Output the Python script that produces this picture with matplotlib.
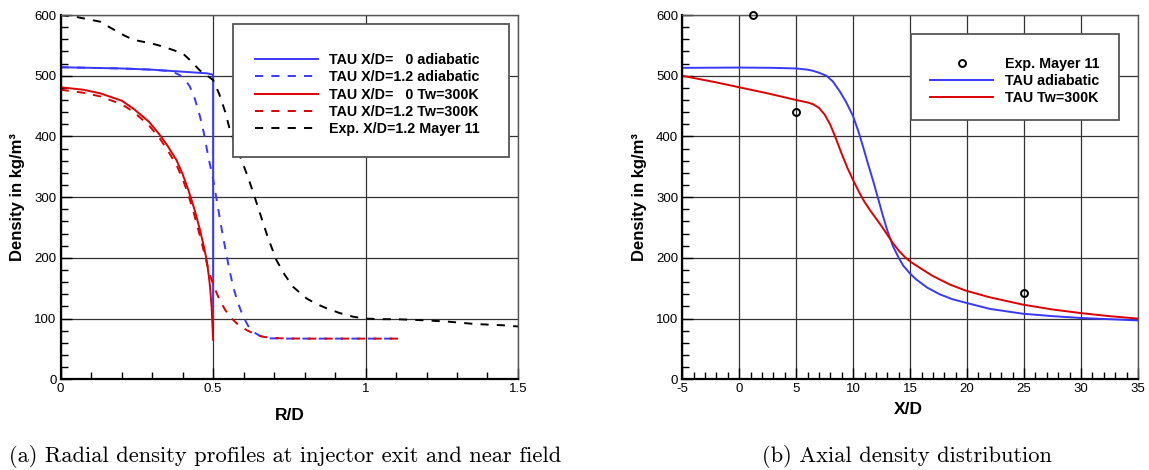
import matplotlib.pyplot as plt
from matplotlib.patches import Rectangle
from matplotlib.ticker import MultipleLocator
from matplotlib.lines import Line2D

plt.rcParams['font.family'] = ['Liberation Sans', 'DejaVu Sans']
plt.rcParams['axes.unicode_minus'] = False

# (a) radial profiles
r_ad0 = [0, 0.1, 0.2, 0.3, 0.39, 0.45, 0.48, 0.497, 0.5, 0.5]
rho_ad0 = [514, 513, 512, 510, 507, 505, 504, 502, 501, 92]

r_ad12 = [0, 0.1, 0.2, 0.3, 0.35, 0.37, 0.391, 0.41, 0.424, 0.44, 0.457, 0.47, 0.484,
          0.5, 0.512, 0.525, 0.539, 0.552, 0.566, 0.582, 0.599, 0.615, 0.632, 0.655,
          0.686, 0.75, 1.11]
rho_ad12 = [514, 513, 512, 510, 508, 506, 501, 492, 482, 462, 433, 405, 367,
            330, 295, 256, 218, 184, 152, 125, 103, 88, 78, 71,
            67.5, 67, 67]

r_tw0 = [0, 0.074, 0.13, 0.2, 0.238, 0.29, 0.326, 0.35, 0.38, 0.40, 0.42, 0.44,
         0.457, 0.47, 0.479, 0.486, 0.49, 0.495, 0.5]
rho_tw0 = [481, 477, 471, 459, 446, 424, 402, 385, 361, 338, 310, 278,
           246, 218, 196, 170, 152, 120, 65]

r_tw12 = [0, 0.074, 0.13, 0.2, 0.238, 0.29, 0.326, 0.35, 0.38, 0.40, 0.42, 0.44,
          0.457, 0.47, 0.48, 0.488, 0.495, 0.505, 0.522, 0.54, 0.555, 0.58, 0.61,
          0.635, 0.664, 0.69, 0.72, 0.8, 1.11]
rho_tw12 = [477, 472, 466, 453, 441, 418, 396, 378, 353, 330, 302, 268,
            236, 210, 190, 175, 164, 150, 130, 114, 103, 91, 81,
            75, 70, 68.5, 67.5, 67, 67]

r_exp = [0, 0.05, 0.1, 0.13, 0.16, 0.21, 0.24, 0.3, 0.336, 0.4, 0.424, 0.456, 0.5,
         0.52, 0.54, 0.555, 0.58, 0.61, 0.63, 0.654, 0.68, 0.708, 0.735, 0.763, 0.807,
         0.84, 0.872, 0.916, 0.96, 1.0, 1.05, 1.1, 1.2, 1.27, 1.36, 1.45, 1.5]
rho_exp = [600, 597, 592, 589, 580, 566, 559, 553, 548, 537, 526, 509, 493,
           470, 440, 411, 378, 339, 310, 273, 233, 196, 172, 152, 133,
           124, 117, 109, 103, 100, 99, 99, 97, 95, 91, 89, 87]

# (b) axial distribution
x_ad = [-5, 0, 3, 5, 6, 6.5, 7, 7.65, 8.2, 8.8, 9.4, 10, 10.5, 10.87, 11.3, 11.75,
        12.2, 12.6, 13.0, 13.5, 14.0, 14.4, 15.0, 15.5, 16.5, 17.6, 18.7, 19.9, 22,
        24.9, 27.5, 30, 32.5, 35]
rho_x_ad = [513, 513.5, 513, 512, 510, 508, 505, 500, 491, 475, 456, 433, 406, 383,
            355, 327, 297, 270, 245, 219, 200, 187, 174, 165, 151, 140, 132, 126,
            116, 108, 104, 101, 99, 97]

x_tw = [-5, -2, 0, 2.5, 5, 6, 6.5, 7, 7.5, 8, 8.5, 9, 9.5, 10, 10.5, 11,
        11.5, 12, 12.5, 13, 13.5, 14, 14.5, 15, 15.9, 17, 18.5, 19.9, 22, 24.9,
        27.5, 30, 32.5, 35]
rho_x_tw = [500, 489, 481, 471, 460, 456, 453, 447, 436, 419, 396, 371, 348, 328,
            309, 292, 278, 265, 252, 238, 224, 212, 202, 194, 183, 170, 156, 146,
            135, 123, 115, 109, 104, 100]

x_mayer = [1.2, 5, 25]
rho_mayer = [600, 440, 142]

blue = '#3838ff'
red = '#dd0000'
dash = (0, (4.2, 4.2))
lw = 1.4

fig = plt.figure(figsize=(11.49, 4.70), dpi=100)
ax1 = fig.add_axes([0.0528, 0.193, 0.398, 0.775])
ax2 = fig.add_axes([0.5938, 0.193, 0.3966, 0.775])


def style(ax, xmaj, xmin):
    ax.set_ylim(0, 600)
    ax.yaxis.set_major_locator(MultipleLocator(100))
    ax.yaxis.set_minor_locator(MultipleLocator(20))
    ax.xaxis.set_major_locator(MultipleLocator(xmaj))
    ax.xaxis.set_minor_locator(MultipleLocator(xmin))
    ax.grid(True, which='major', color='#333333', lw=0.9)
    ax.set_axisbelow(True)
    ax.tick_params(which='both', direction='in', top=False, right=False,
                   labelsize=9.5, pad=3)
    ax.tick_params(which='major', length=8, width=1)
    ax.tick_params(which='minor', length=5, width=1)
    for s in ['left', 'bottom']:
        ax.spines[s].set_linewidth(1.6)
        ax.spines[s].set_color('black')
    for s in ['top', 'right']:
        ax.spines[s].set_linewidth(1.0)
        ax.spines[s].set_color('#555555')
    ax.set_ylabel('Density in kg/m³', fontsize=12, fontweight='bold')


style(ax1, 0.5, 0.1)
ax1.set_xlim(0, 1.5)
ax1.xaxis.set_major_formatter(plt.FuncFormatter(lambda v, p: '%g' % v))
ax1.plot(r_ad0, rho_ad0, color=blue, lw=lw)
ax1.plot(r_ad12, rho_ad12, color=blue, lw=lw, ls=dash)
ax1.plot(r_tw0, rho_tw0, color=red, lw=lw)
ax1.plot(r_tw12, rho_tw12, color=red, lw=lw, ls=dash)
ax1.plot(r_exp, rho_exp, color='black', lw=lw, ls=dash)
ax1.set_xlabel('R/D', fontsize=12.5, fontweight='bold')
ax1.xaxis.set_label_coords(0.5, -0.079)
ax1.yaxis.set_label_coords(-0.078, 0.5)

ax1.add_patch(Rectangle((0.377, 0.61), 0.603, 0.365, transform=ax1.transAxes,
                        facecolor='white', edgecolor='#555555', lw=1.3, zorder=4))
h1 = [Line2D([], [], color=blue, lw=lw),
      Line2D([], [], color=blue, lw=lw, ls=dash),
      Line2D([], [], color=red, lw=lw),
      Line2D([], [], color=red, lw=lw, ls=dash),
      Line2D([], [], color='black', lw=lw, ls=dash)]
l1 = ['TAU X/D=   0 adiabatic', 'TAU X/D=1.2 adiabatic', 'TAU X/D=   0 Tw=300K',
      'TAU X/D=1.2 Tw=300K', 'Exp. X/D=1.2 Mayer 11']
leg1 = ax1.legend(h1, l1, loc='upper left', bbox_to_anchor=(0.424, 0.895),
                  frameon=False, borderpad=0, borderaxespad=0, handlelength=4.4,
                  handletextpad=0.8, labelspacing=0.22,
                  prop={'weight': 'bold', 'size': 10.3})
leg1.set_zorder(5)

style(ax2, 5, 1)
ax2.set_xlim(-5, 35)
ax2.plot(x_ad, rho_x_ad, color=blue, lw=lw)
ax2.plot(x_tw, rho_x_tw, color=red, lw=lw)
ax2.plot(x_mayer, rho_mayer, ls='none', marker='o', ms=5, mfc='none', mec='black',
         mew=1.4, clip_on=False, zorder=6)
ax2.set_xlabel('X/D', fontsize=12.5, fontweight='bold')
ax2.xaxis.set_label_coords(0.496, -0.062)
ax2.yaxis.set_label_coords(-0.0775, 0.5)

ax2.add_patch(Rectangle((0.503, 0.713), 0.456, 0.236, transform=ax2.transAxes,
                        facecolor='white', edgecolor='#555555', lw=1.3, zorder=4))
h2 = [Line2D([], [], ls='none', marker='o', ms=5, mfc='none', mec='black', mew=1.4),
      Line2D([], [], color=blue, lw=lw),
      Line2D([], [], color=red, lw=lw)]
l2 = ['Exp. Mayer 11', 'TAU adiabatic', 'TAU Tw=300K']
leg2 = ax2.legend(h2, l2, loc='upper left', bbox_to_anchor=(0.544, 0.885),
                  frameon=False, borderpad=0, borderaxespad=0, handlelength=4.4,
                  handletextpad=0.8, labelspacing=0.22,
                  prop={'weight': 'bold', 'size': 10.3})
leg2.set_zorder(5)

fig.text(0.248, 0.0177, '(a) Radial density profiles at injector exit and near field',
         ha='center', va='baseline', fontsize=16.2, family='cmr10')
fig.text(0.7893, 0.0177, '(b) Axial density distribution',
         ha='center', va='baseline', fontsize=16.2, family='cmr10')

fig.savefig('out.png', dpi=100)
